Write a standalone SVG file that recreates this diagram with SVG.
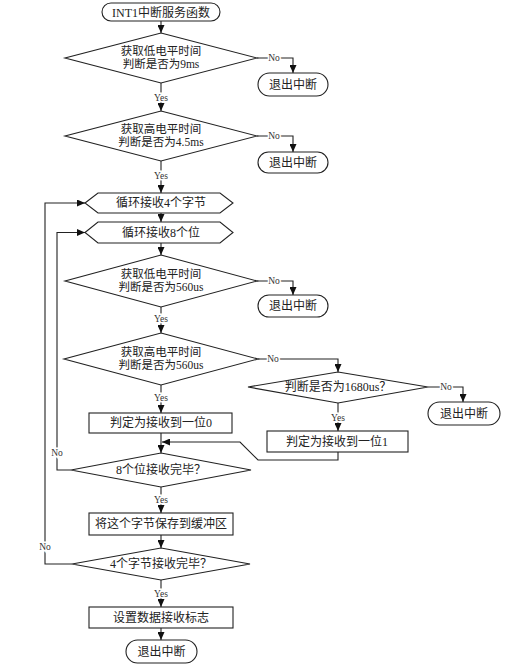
<svg xmlns="http://www.w3.org/2000/svg" width="520" height="665" viewBox="0 0 520 665">
<defs>
<marker id="ah" markerWidth="8" markerHeight="7" refX="8" refY="3.5" orient="auto" markerUnits="userSpaceOnUse">
<path d="M0,0 L8,3.5 L0,7 z" fill="#111"/>
</marker>
<style>
.s{fill:#fff;stroke:#222;stroke-width:1.1}
.t{font-family:"Liberation Serif","Noto Sans CJK SC",serif;font-size:12px;fill:#222;text-anchor:middle}
.t2{font-size:11.5px}
.c line,.c polyline{fill:none;stroke:#222;stroke-width:1.1}
.a{marker-end:url(#ah)}
.l{font-family:"Liberation Serif","Noto Sans CJK SC",serif;font-size:9.5px;fill:#333;text-anchor:middle;stroke:#fff;stroke-width:3;paint-order:stroke}
</style>
</defs>
<rect width="520" height="665" fill="#fff"/>
<g class="c" id="connectors">
<line class="a" x1="161" y1="21" x2="161" y2="33"/>
<polyline class="a" points="257,58 293,58 293,73"/>
<line class="a" x1="161" y1="83" x2="161" y2="111"/>
<polyline class="a" points="257,136 293,136 293,152"/>
<line class="a" x1="161" y1="161" x2="161" y2="193"/>
<line class="a" x1="161" y1="213" x2="161" y2="222"/>
<line class="a" x1="161" y1="243" x2="161" y2="255"/>
<polyline class="a" points="257,281 293,281 293,295"/>
<line class="a" x1="161" y1="307" x2="161" y2="333"/>
<polyline class="a" points="258,359 338,359 338,372"/>
<polyline class="a" points="428,387 463,387 463,402"/>
<line class="a" x1="338" y1="403" x2="338" y2="431"/>
<polyline class="a" points="338,452 338,460 258,460 240,442 162,442"/>
<line class="a" x1="161" y1="385" x2="161" y2="413"/>
<line class="a" x1="161" y1="433" x2="161" y2="453"/>
<polyline class="a" points="71,470 57,470 57,232.5 85,232.5"/>
<line class="a" x1="161" y1="487" x2="161" y2="513"/>
<line class="a" x1="161" y1="535" x2="161" y2="548"/>
<polyline class="a" points="72,564 45,564 45,203 85,203"/>
<line class="a" x1="161" y1="580" x2="161" y2="607"/>
<line class="a" x1="161" y1="628" x2="161" y2="640"/>
<text class="l" x="274" y="61">No</text>
<text class="l" x="161" y="101">Yes</text>
<text class="l" x="274" y="139">No</text>
<text class="l" x="161" y="179">Yes</text>
<text class="l" x="274" y="284">No</text>
<text class="l" x="161" y="322">Yes</text>
<text class="l" x="273" y="362">No</text>
<text class="l" x="446" y="390">No</text>
<text class="l" x="338" y="421">Yes</text>
<text class="l" x="161" y="401">Yes</text>
<text class="l" x="57" y="456">No</text>
<text class="l" x="161" y="503">Yes</text>
<text class="l" x="45" y="550">No</text>
<text class="l" x="161" y="597">Yes</text>
</g>
<g id="start"><rect class="s" x="102" y="3" width="118" height="18" rx="9"/><text class="t" x="161" y="16.5">INT1中断服务函数</text></g>
<g id="d1"><polygon class="s" points="161,33 257,58 161,83 65,58"/><text class="t t2" x="161" y="55">获取低电平时间</text><text class="t t2" x="161" y="68">判断是否为9ms</text></g>
<g id="t1"><rect class="s" x="258" y="73" width="70" height="23" rx="11.5"/><text class="t" x="293" y="88.5">退出中断</text></g>
<g id="d2"><polygon class="s" points="161,111 257,136 161,161 65,136"/><text class="t t2" x="161" y="133">获取高电平时间</text><text class="t t2" x="161" y="146">判断是否为4.5ms</text></g>
<g id="t2"><rect class="s" x="258" y="152" width="70" height="21" rx="10.5"/><text class="t" x="293" y="166.5">退出中断</text></g>
<g id="h1"><polygon class="s" points="85,203 98,193 220,193 233,203 220,213 98,213"/><text class="t" x="161" y="207">循环接收4个字节</text></g>
<g id="h2"><polygon class="s" points="85,232.5 98,222 220,222 233,232.5 220,243 98,243"/><text class="t" x="161" y="236.5">循环接收8个位</text></g>
<g id="d3"><polygon class="s" points="161,255 257,281 161,307 65,281"/><text class="t t2" x="161" y="278">获取低电平时间</text><text class="t t2" x="161" y="291">判断是否为560us</text></g>
<g id="t3"><rect class="s" x="258" y="295" width="70" height="22" rx="11"/><text class="t" x="293" y="310">退出中断</text></g>
<g id="d4"><polygon class="s" points="161,333 258,359 161,385 64,359"/><text class="t t2" x="161" y="356">获取高电平时间</text><text class="t t2" x="161" y="369">判断是否为560us</text></g>
<g id="d5"><polygon class="s" points="338,372 428,387 338,403 248,387"/><text class="t" x="338" y="391">判断是否为1680us？</text></g>
<g id="t4"><rect class="s" x="428" y="402" width="72" height="23" rx="11.5"/><text class="t" x="464" y="417.5">退出中断</text></g>
<g id="r1"><rect class="s" x="267" y="431" width="141" height="21"/><text class="t" x="337" y="445.5">判定为接收到一位1</text></g>
<g id="r0"><rect class="s" x="89" y="413" width="143" height="20"/><text class="t" x="161" y="427">判定为接收到一位0</text></g>
<g id="d6"><polygon class="s" points="161,453 251,470 161,487 71,470"/><text class="t" x="161" y="474">8个位接收完毕？</text></g>
<g id="r2"><rect class="s" x="89" y="513" width="144" height="22"/><text class="t" x="161" y="528">将这个字节保存到缓冲区</text></g>
<g id="d7"><polygon class="s" points="161,548 250,564 161,580 72,564"/><text class="t" x="161" y="568">4个字节接收完毕？</text></g>
<g id="r3"><rect class="s" x="89" y="607" width="144" height="21"/><text class="t" x="161" y="621.5">设置数据接收标志</text></g>
<g id="end"><rect class="s" x="126" y="640" width="71" height="23" rx="11.5"/><text class="t" x="161.5" y="655.5">退出中断</text></g>
</svg>
